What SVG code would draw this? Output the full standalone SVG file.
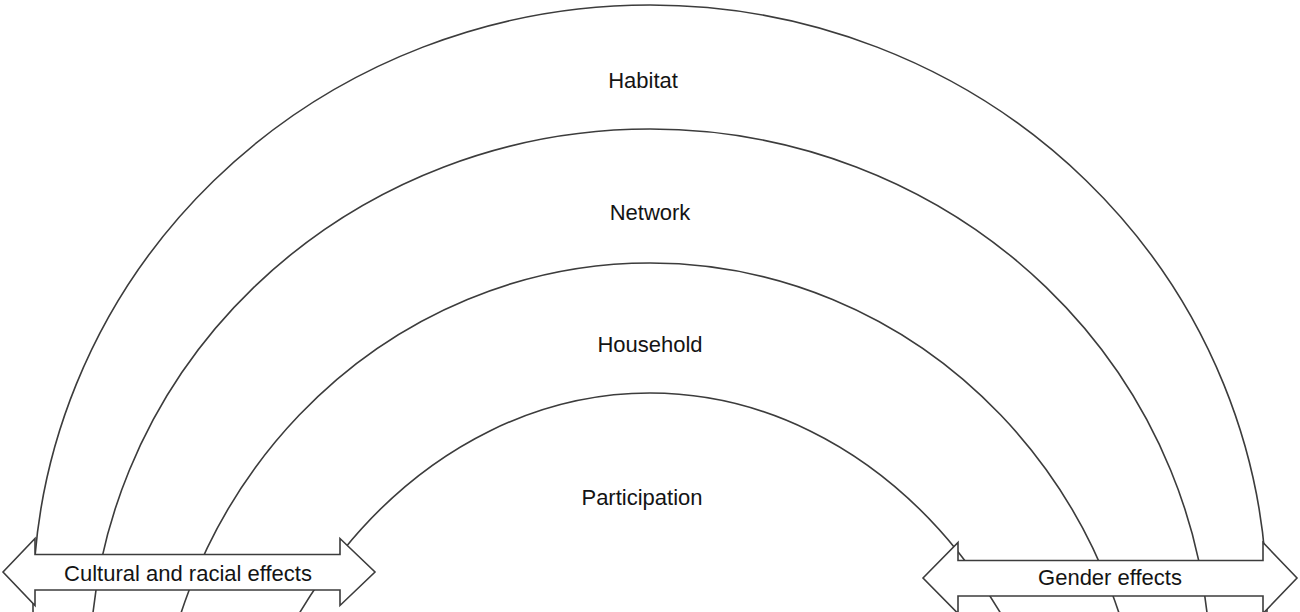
<svg xmlns="http://www.w3.org/2000/svg" width="1300" height="612" viewBox="0 0 1300 612">
<style>
.arc{fill:none;stroke:#3c3c3c;stroke-width:1.6}
.arrow{fill:#ffffff;stroke:#3c3c3c;stroke-width:1.6;stroke-linejoin:miter}
.lbl{font-family:"Liberation Sans",Arial,sans-serif;font-size:22px;fill:#141414;text-anchor:middle}
</style>
<rect width="1300" height="612" fill="#ffffff"/>
<g id="habitat">
<ellipse class="arc" cx="650" cy="605" rx="617" ry="600"/>
<text class="lbl" x="643" y="88">Habitat</text>
</g>
<g id="network">
<ellipse class="arc" cx="650" cy="669" rx="560" ry="540"/>
<text class="lbl" x="650" y="220">Network</text>
</g>
<g id="household">
<ellipse class="arc" cx="650" cy="782" rx="496" ry="519"/>
<text class="lbl" x="650" y="352">Household</text>
</g>
<g id="participation">
<ellipse class="arc" cx="650" cy="933" rx="435" ry="540"/>
<text class="lbl" x="642" y="505">Participation</text>
</g>
<g id="connectors"></g>
<g id="cultural-racial">
<path class="arrow" d="M3,572 L35,538.5 L35,554.5 L340,554.5 L340,538.5 L375,572 L340,605.5 L340,590 L35,590 L35,605.5 Z"/>
<text class="lbl" x="188" y="581">Cultural and racial effects</text>
</g>
<g id="gender">
<path class="arrow" d="M923,578 L958,542.5 L958,560.5 L1263,560.5 L1263,542.5 L1297,578 L1263,613.5 L1263,596 L958,596 L958,613.5 Z"/>
<text class="lbl" x="1110" y="585">Gender effects</text>
</g>
</svg>
